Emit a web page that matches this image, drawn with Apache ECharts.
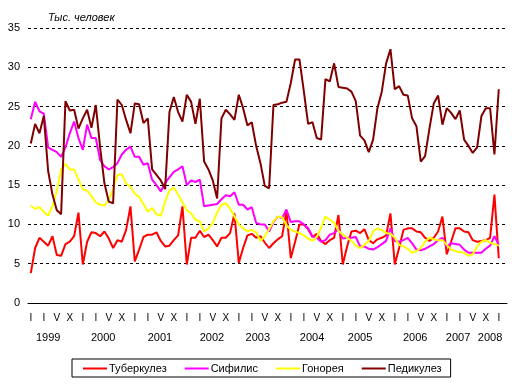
<!DOCTYPE html>
<html>
<head>
<meta charset="utf-8">
<script src="https://cdn.jsdelivr.net/npm/echarts@6/dist/echarts.min.js"></script>
<style>html,body{margin:0;padding:0;background:#fff;}#c{width:512px;height:390px;}</style>
</head>
<body>
<div id="c"></div>
<script>
// Monthly data, January 1999 .. January 2008 (109 months)
const seriesNames = ['Туберкулез', 'Сифилис', 'Гонорея', 'Педикулез'];
const tuberkulez = [
  3.8, 7.0, 8.3, 7.8, 7.3, 8.5, 6.1, 6.0, 7.5, 7.8, 8.5, 11.5,
  4.9, 7.8, 9.0, 8.9, 8.5, 9.1, 8.2, 7.0, 8.0, 7.8, 9.3, 12.3,
  5.3, 6.8, 8.4, 8.7, 8.7, 9.0, 7.9, 7.2, 7.3, 8.0, 8.6, 12.3,
  4.9, 8.3, 8.3, 9.2, 8.4, 8.7, 8.0, 7.2, 8.3, 8.3, 8.9, 11.4,
  5.1, 7.0, 8.6, 8.8, 8.3, 8.5, 7.7, 7.0, 7.6, 8.1, 8.5, 11.7,
  5.7, 7.8, 10.0, 10.0, 9.4, 8.4, 8.8, 7.9, 7.5, 8.0, 8.3, 11.2,
  4.9, 7.2, 9.1, 9.2, 8.9, 9.4, 8.0, 7.6, 8.1, 8.3, 8.6, 11.4,
  4.9, 7.0, 9.3, 9.5, 9.5, 9.1, 9.0, 8.3, 7.9, 8.3, 9.1, 11.0,
  6.2, 7.8, 9.5, 9.5, 9.1, 9.0, 8.0, 7.8, 7.9, 8.0, 8.3, 13.8,
  5.7
];
const sifilis = [
  23.4, 25.6, 24.4, 24.1, 19.8, 19.5, 19.2, 18.6, 19.8, 21.6, 23.1, 21.0,
  19.5, 22.7, 21.0, 21.0, 18.2, 17.4, 17.0, 17.3, 17.8, 18.9, 19.5, 19.9,
  18.6, 18.6, 17.6, 17.8, 15.7, 15.0, 14.2, 15.3, 16.0, 16.7, 17.0, 17.4,
  15.0, 15.6, 15.4, 15.7, 12.3, 12.4, 12.5, 12.6, 13.2, 13.7, 13.6, 14.1,
  12.5, 12.5, 11.9, 12.2, 10.2, 10.0, 10.0, 9.1, 10.3, 11.0, 10.8, 11.9,
  10.3, 10.4, 10.4, 10.0, 9.5, 8.5, 8.3, 7.8, 8.0, 8.7, 8.9, 9.4,
  8.2, 8.3, 8.3, 8.4, 7.2, 7.2, 6.9, 6.8, 7.1, 7.5, 7.9, 9.5,
  7.9, 7.8, 8.0, 8.3, 7.6, 6.8, 6.7, 6.9, 7.2, 7.5, 8.0, 8.3,
  7.2, 7.6, 7.5, 7.4, 6.8, 6.4, 6.4, 6.4, 6.4, 6.9, 7.3, 8.5,
  7.4
];
const gonoreya = [
  12.4, 12.0, 12.2, 11.6, 11.1, 12.3, 14.3, 17.0, 17.7, 17.0, 17.0, 15.7,
  14.5, 14.3, 13.6, 12.8, 12.5, 12.4, 13.1, 14.5, 16.3, 16.4, 15.2, 14.8,
  13.9, 13.5, 12.6, 11.6, 12.1, 11.3, 11.1, 12.9, 14.3, 14.7, 13.8, 12.8,
  11.8, 11.4, 10.6, 10.4, 9.1, 9.5, 10.2, 11.5, 12.5, 12.7, 12.0, 11.0,
  10.0, 9.5, 9.1, 9.3, 9.0, 7.9, 8.5, 9.4, 10.4, 11.0, 10.9, 9.9,
  9.3, 9.1, 8.9, 8.6, 8.2, 7.9, 8.4, 9.6, 11.0, 10.6, 10.2, 9.2,
  8.7, 8.3, 7.9, 7.3, 7.0, 7.4, 7.9, 9.1, 9.5, 9.3, 8.9, 8.8,
  8.3, 7.4, 7.2, 6.9, 6.4, 6.6, 7.0, 7.8, 8.3, 8.1, 8.0, 8.0,
  7.4, 6.8, 6.6, 6.5, 6.4, 6.0, 6.2, 7.2, 7.8, 8.0, 7.7, 7.5,
  7.3
];
const pedikulez = [
  20.3, 22.8, 21.6, 23.8, 16.8, 13.8, 11.8, 11.3, 25.7, 24.5, 24.6, 22.2,
  23.5, 24.6, 22.3, 25.2, 19.8, 15.2, 12.9, 12.7, 25.9, 25.2, 23.3, 21.6,
  25.4, 25.3, 22.9, 23.5, 17.0, 16.3, 15.6, 14.5, 24.3, 26.2, 24.3, 23.1,
  26.5, 25.6, 22.8, 26.0, 18.0, 17.0, 15.6, 13.3, 23.5, 24.6, 24.0, 23.3,
  26.5, 24.8, 22.6, 23.0, 20.0, 17.8, 14.9, 14.6, 25.2, 25.3, 25.5, 25.6,
  28.0, 31.0, 31.0, 27.0, 22.8, 23.0, 21.0, 20.8, 28.5, 28.2, 30.5, 27.5,
  27.4, 27.3, 26.9, 25.7, 21.3, 20.7, 19.2, 20.8, 24.8, 26.9, 30.5, 32.3,
  27.2, 27.6, 26.5, 26.4, 23.5, 22.5, 18.0, 18.7, 22.2, 25.4, 26.4, 22.7,
  24.8, 24.2, 23.4, 24.5, 20.8, 20.0, 19.1, 19.8, 23.8, 24.8, 24.8, 18.9,
  27.2
];
// Tick labels
const monthTickLabels = ['I', 'I', 'V', 'X'];          // shown every 3rd month
const yearLabels = ['1999','2000','2001','2002','2003','2004','2005','2006','2007','2008'];
const yearLabelAt = [4, 16.7, 29.8, 41.8, 52.4, 64.9, 76, 88.7, 98.6, 106]; // month index where each year label sits
const yTicks = { min: 0, max: 35, interval: 5 };

const colors = ['#FF0000', '#FF00FF', '#FFFF00', '#800000'];
const allSeries = [tuberkulez, sifilis, gonoreya, pedikulez];
const monthTicks = [];
for (let i = 0; i < tuberkulez.length; i += 3) monthTicks.push(i);

const FONT = '"Liberation Sans", Arial, sans-serif';
const X_MIN = -0.646, X_MAX = 109.9;

const chart = echarts.init(document.getElementById('c'), null, { renderer: 'canvas' });
chart.setOption({
  animation: false,
  backgroundColor: '#fff',
  title: {
    text: 'Тыс. человек', left: 43, top: 7,
    textStyle: { fontFamily: FONT, fontSize: 11, fontStyle: 'italic', fontWeight: 'normal', color: '#000' }
  },
  grid: { left: 28, right: 5, top: 28, bottom: 87 },
  legend: {
    data: seriesNames,
    left: 72, top: 359,
    padding: [4, 9, 3, 11],
    itemGap: 18, itemWidth: 24, itemHeight: 2,
    icon: 'rect',
    borderColor: '#000', borderWidth: 1, borderRadius: 0,
    backgroundColor: '#fff',
    textStyle: { fontFamily: FONT, fontSize: 11, color: '#000', padding: [0, 0, 0, -3] }
  },
  xAxis: [
    {
      type: 'value', min: X_MIN, max: X_MAX,
      axisLine: { show: true, onZero: false, lineStyle: { color: '#000', width: 1 } },
      axisTick: { show: false },
      splitLine: { show: false },
      axisLabel: {
        customValues: monthTicks, margin: 10, color: '#000', fontFamily: FONT, fontSize: 10,
        formatter: v => monthTickLabels[(Math.round(v) % 12) / 3]
      }
    },
    {
      type: 'value', min: X_MIN, max: X_MAX, position: 'bottom', offset: 18,
      axisLine: { show: false }, axisTick: { show: false }, splitLine: { show: false },
      axisLabel: {
        customValues: yearLabelAt, margin: 11, color: '#000', fontFamily: FONT, fontSize: 11,
        formatter: v => yearLabels[yearLabelAt.indexOf(v)]
      }
    }
  ],
  yAxis: {
    type: 'value', min: yTicks.min, max: yTicks.max, interval: yTicks.interval,
    axisLine: { show: false }, axisTick: { show: false },
    splitLine: { show: true, lineStyle: { color: '#000', width: 1, type: [3, 3] } },
    axisLabel: { color: '#000', fontFamily: FONT, fontSize: 11, margin: 8 }
  },
  series: allSeries.map((arr, k) => ({
    name: seriesNames[k],
    type: 'line',
    xAxisIndex: 0,
    showSymbol: false,
    symbol: 'none',
    color: colors[k],
    lineStyle: { color: colors[k], width: 2 },
    data: arr.map((v, i) => [i, v])
  }))
});
</script>
</body>
</html>
